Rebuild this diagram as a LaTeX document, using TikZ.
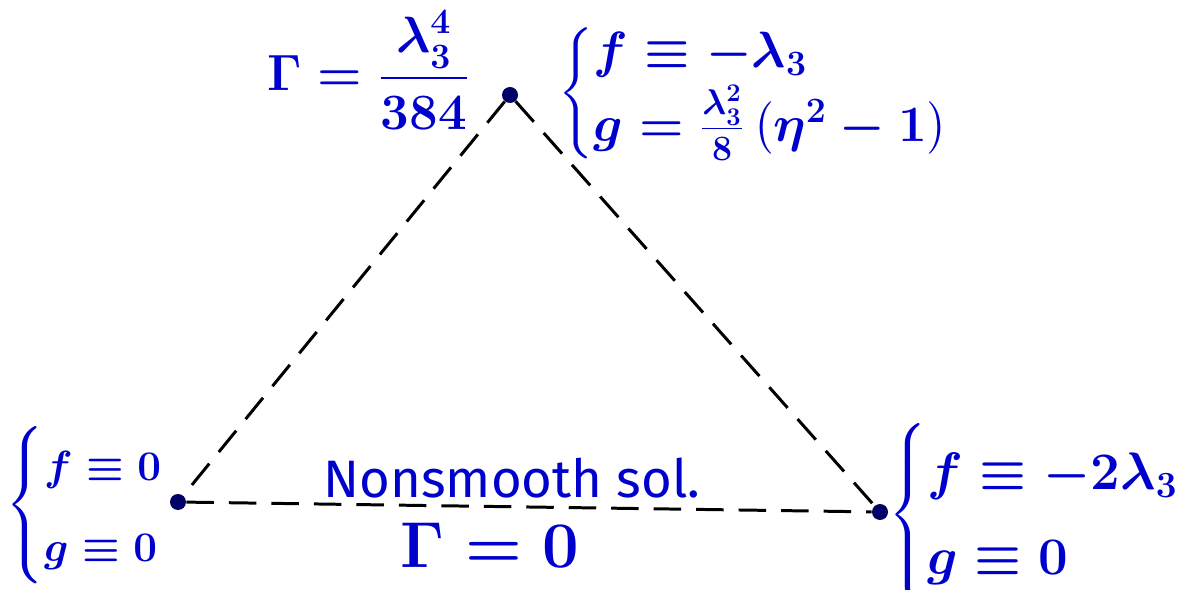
\RequirePackage{fix-cm}
\documentclass[tikz,border=0pt]{standalone}
\usepackage{amsmath}
\usepackage{fontspec}
\setmainfont{Fira Sans}
\begin{document}
\begin{tikzpicture}[x=0.02cm,y=-0.02cm,
  vert/.style={circle,fill=blue!40!black,inner sep=0pt,minimum size=0.32cm},
  edge/.style={draw=black,line width=1.7pt,dash pattern=on 0.55cm off 0.3cm},
  lbl/.style={text=blue!80!black,inner sep=0pt,font=\fontsize{30}{48}\selectfont\boldmath}]
\useasboundingbox (0,0) rectangle (1182,590);
\node[vert] (T) at (510,95) {};
\node[vert] (L) at (178,502) {};
\node[vert] (R) at (880,512) {};
\draw[edge] (T) -- (L);
\draw[edge] (T) -- (R);
\draw[edge] (L) -- (R);
\node[lbl,font=\fontsize{29}{36}\selectfont\boldmath] (gt) at (368,70) {$\Gamma=\dfrac{\lambda_3^4}{384}$};
\node[lbl,anchor=west,font=\fontsize{29}{34}\selectfont\boldmath] (tr) at (558,93) {$\left\{\begin{array}{@{}l@{}}f\equiv-\lambda_3\\ g=\frac{\lambda_3^2}{8}\left(\eta^2-1\right)\end{array}\right.$};
\node[lbl,anchor=west,font=\fontsize{24}{46}\selectfont\boldmath] (bl) at (5,505) {$\left\{\begin{array}{@{}l@{}}f\equiv0\\ g\equiv0\end{array}\right.$};
\node[lbl,anchor=west] (br) at (888,515) {$\left\{\begin{array}{@{}l@{}}f\equiv-2\lambda_3\\ g\equiv0\end{array}\right.$};
\node[lbl,font=\fontsize{30}{36}\selectfont] (ns) at (512,478) {Nonsmooth sol.};
\node[lbl,font=\fontsize{37}{44}\selectfont\boldmath] (g0) at (490,545) {$\Gamma=0$};
\end{tikzpicture}
\end{document}
